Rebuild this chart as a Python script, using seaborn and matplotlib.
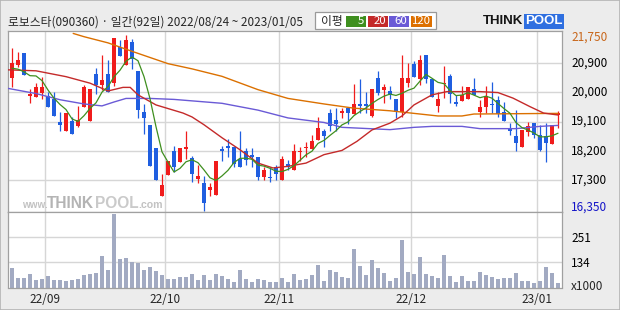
import numpy as np
import matplotlib
matplotlib.use("Agg")
import matplotlib.pyplot as plt
import seaborn as sns
from matplotlib.patches import Rectangle

# ---------------- data ----------------
title = "로보스타(090360) · 일간(92일) 2022/08/24 ~ 2023/01/05"

opens = [20430, 20840, 21200, 19900, 19840, 19990, 19870, 19790, 19090, 18820,
         19100, 18970, 19540, 19130, 20560, 20210, 20560, 20300, 21400, 20850,
         21550, 20640, 19400, 19000, 18270, 16800, 17440, 18180, 17840, 18250,
         17970, 17340, 17220, 16980, 16830, 18260, 18350, 18300, 17950, 18200,
         18060, 18020, 17380, 17400, 17710, 17300, 17800, 17620, 18170, 18270,
         18260, 18540, 18810, 19360, 19150, 19360, 19510, 19340, 19640, 19640,
         19270, 20430, 20080, 20030, 19800, 19380, 20300, 20870, 20410, 21150,
         20400, 19590, 20250, 20500, 19700, 19740, 19790, 20090, 19380, 19540,
         19640, 19770, 19390, 18860, 18660, 18330, 18790, 19050, 18690, 18660,
         18400, 19290]
highs = [21350, 21250, 21200, 20090, 20280, 20480, 20020, 20020, 19380, 19370,
         19230, 19580, 20230, 20100, 20740, 21140, 20990, 21660, 21610, 21750,
         21630, 20640, 19650, 19000, 18270, 17490, 17870, 18360, 18280, 18810,
         18030, 17770, 17410, 17210, 17890, 18350, 18570, 18300, 18810, 18280,
         18280, 18020, 17700, 17700, 17770, 18030, 17920, 18410, 18330, 18460,
         18690, 19230, 18860, 19480, 19510, 19510, 19560, 20260, 20410, 20020,
         20100, 20660, 20260, 20190, 19800, 21150, 20890, 20970, 21150, 21150,
         20400, 20000, 20810, 20560, 19920, 20190, 20150, 20430, 19760, 20190,
         20310, 19870, 19690, 19050, 19440, 18840, 19080, 19050, 19000, 19050,
         19000, 19410]
lows = [20170, 20790, 20530, 19680, 19840, 19790, 19540, 19280, 18820, 18820,
        18730, 18930, 19540, 19130, 19940, 20070, 20010, 20190, 21110, 20850,
        20710, 19220, 18720, 17720, 17290, 16800, 17440, 17540, 17840, 17940,
        17230, 17210, 16350, 16800, 16830, 17870, 18000, 17690, 17710, 17770,
        17690, 17300, 17290, 17230, 17300, 17300, 17600, 17620, 17870, 18000,
        18260, 18540, 18330, 18810, 18810, 19220, 19030, 19340, 19360, 19360,
        19230, 19920, 19680, 19790, 19220, 19230, 20170, 20480, 20230, 20300,
        19840, 19380, 19820, 19680, 19580, 19740, 19790, 19920, 19230, 19360,
        19360, 19230, 19130, 18670, 18180, 18330, 18640, 18590, 18180, 17840,
        18400, 18900]
closes = [20890, 20990, 20530, 19950, 20150, 20170, 19540, 19280, 18980, 19370,
          18730, 19150, 20160, 20100, 20230, 20380, 20010, 21660, 21110, 21610,
          21030, 19440, 19220, 17720, 17290, 17160, 17870, 17690, 18280, 18300,
          17480, 17410, 16580, 17070, 17890, 18180, 18270, 17780, 17710, 17920,
          18000, 17380, 17620, 17380, 17470, 17950, 17710, 18200, 18200, 18310,
          18510, 18910, 18660, 18970, 19030, 19410, 19360, 19640, 19590, 19590,
          20100, 19970, 20150, 19910, 19380, 20430, 20430, 20480, 20990, 20410,
          19840, 19800, 20280, 19940, 19630, 19920, 20150, 19920, 19540, 19870,
          19610, 19340, 19130, 18820, 18430, 18840, 18970, 18670, 18230, 18430,
          19000, 19360]
volumes = [108, 64, 62, 81, 55, 58, 71, 53, 53, 50,
           55, 58, 76, 81, 87, 163, 99, 355, 149, 154,
           135, 132, 99, 113, 93, 76, 58, 58, 67, 67,
           81, 53, 76, 53, 81, 71, 58, 44, 99, 58,
           44, 58, 53, 44, 44, 62, 44, 81, 55, 58,
           76, 122, 49, 99, 90, 67, 62, 195, 117, 76,
           145, 108, 85, 49, 62, 236, 90, 81, 158, 81,
           71, 62, 167, 71, 44, 71, 49, 49, 90, 76,
           67, 58, 62, 62, 85, 49, 49, 39, 49, 113,
           85, 39]

ma5 = [20740, 20710, 20630, 20510, 20502, 20358, 20068, 19818, 19624, 19468,
       19180, 19102, 19278, 19502, 19674, 20004, 20176, 20476, 20678, 20954,
       21084, 20970, 20482, 19804, 18940, 18166, 17852, 17546, 17658, 17860,
       17924, 17832, 17610, 17368, 17286, 17426, 17598, 17838, 17966, 17972,
       17936, 17758, 17726, 17660, 17570, 17560, 17626, 17742, 17906, 18074,
       18186, 18426, 18518, 18672, 18816, 18996, 19086, 19282, 19406, 19518,
       19656, 19778, 19880, 19944, 19902, 19968, 20060, 20126, 20342, 20548,
       20430, 20304, 20264, 20054, 19898, 19914, 19984, 19912, 19832, 19880,
       19818, 19656, 19498, 19354, 19066, 18912, 18838, 18746, 18628, 18628,
       18660, 18738]

ma20_day = [-0.7, 4, 9, 13, 16, 18.5, 19.7, 21, 24, 28.5, 30, 32, 35, 38, 41, 43.5,
            46, 49, 52, 55, 57.5, 60, 63, 65, 67, 70, 72.5, 78, 81, 83.5, 86.3, 88.6, 91]
ma20_val = [20690, 20660, 20480, 20280, 20040, 20150, 20150, 19920, 19610, 19360, 19240,
            19000, 18600, 18230, 17820, 17670, 17720, 17820, 18080, 18210, 18490, 18840,
            19050, 19270, 19610, 19920, 20020, 20020, 19990, 19820, 19560, 19360, 19300]

ma60_day = [-0.7, 4, 8, 12, 15, 17, 19, 23, 27, 31, 35, 41, 46, 52, 55, 63, 67, 70,
            75, 78, 84, 88, 91]
ma60_val = [20120, 19960, 19770, 19640, 19580, 19700, 19810, 19810, 19780, 19720, 19660,
            19450, 19210, 19070, 18920, 18850, 18920, 18950, 18950, 18880, 18880, 18950, 18980]

ma120_day = [10.2, 12, 16, 20, 23, 26, 30, 35, 41, 46, 52, 57, 63, 65, 71, 75, 77, 91]
ma120_val = [21810, 21710, 21520, 21260, 21070, 20880, 20720, 20490, 20080, 19810, 19640,
             19510, 19430, 19390, 19270, 19270, 19330, 19350]

month_labels = ["22/09", "22/10", "22/11", "22/12", "23/01"]
month_pos = [5.5, 25.5, 44.5, 66.5, 87.5]
price_grid = [17300, 18200, 19100, 20000, 20900]
price_labels = [(21750, "21,750"), (20900, "20,900"), (20000, "20,000"), (19100, "19,100"),
                (18200, "18,200"), (17300, "17,300"), (16350, "16,350")]
vol_grid = [134, 251]
legend_items = ["5", "20", "60", "120"]

# ---------------- style ----------------
sns.set_style("white")
plt.rcParams['font.family'] = ['Noto Sans CJK KR', 'DejaVu Sans']

W, H = 620, 310
def fx(px): return px / W
def fy(py): return 1 - py / H

UP = '#f01c1c'
DOWN = '#1f5ee0'
C5, C20, C60, C120 = '#3f8f1f', '#c42a2a', '#6a5ad6', '#db7000'
GRID = '#d6d6d6'
FRAME = '#a0a0a0'

fig = plt.figure(figsize=(6.2, 3.1), dpi=100, facecolor='#ececec')
fig.patches.append(Rectangle((0.0008, 0.0016), 0.9984, 0.9968, transform=fig.transFigure,
                             fill=False, ec='#b4b4b4', lw=1.2))

axp = fig.add_axes([fx(7.5), fy(212), (562 - 7.5) / W, (212 - 31) / H])
axv = fig.add_axes([fx(7.5), fy(287.5), (562 - 7.5) / W, (287.5 - 212) / H])

for ax in (axp, axv):
    ax.set_facecolor('white')
    for s in ax.spines.values():
        s.set_color(FRAME)
        s.set_linewidth(0.9)
    ax.set_xlim(-0.75, 91.67)
    ax.tick_params(length=0)
    ax.set_yticks([])
    for m in month_pos:
        ax.axvline(m, color=GRID, lw=1.0, zorder=0)

axp.set_ylim(16315, 21885)
axv.set_ylim(20, 364)
for g in price_grid:
    axp.axhline(g, color=GRID, lw=1.0, zorder=0)
for g in vol_grid:
    axv.axhline(g, color=GRID, lw=1.0, zorder=0)

# watermark
axp.text(fx(22), fy(208), "www.", transform=fig.transFigure, fontsize=7.2, color='#c2c2c2',
         family='Liberation Sans', weight='bold', va='baseline', ha='left', zorder=0.5)
axp.text(fx(47), fy(208), "THINK", transform=fig.transFigure, fontsize=11.2, color='#b4b4b4',
         family='Liberation Sans', weight='bold', va='baseline', ha='left', zorder=0.5)
axp.text(fx(94.6), fy(208), "POOL", transform=fig.transFigure, fontsize=11.2, color='#cacaca',
         family='Liberation Sans', weight='bold', va='baseline', ha='left', zorder=0.5)
axp.text(fx(138.5), fy(208), ".com", transform=fig.transFigure, fontsize=7.6, color='#c2c2c2',
         family='Liberation Sans', weight='bold', va='baseline', ha='left', zorder=0.5)

# candles
x = np.arange(len(closes))
o = np.array(opens, float); c = np.array(closes, float)
hi = np.array(highs, float); lo = np.array(lows, float)
colors = np.where(c >= o, UP, DOWN)
axp.vlines(x, lo, hi, colors=colors, lw=0.9, zorder=3)
diff = np.abs(c - o)
minh = 32.0
bottom = np.minimum(o, c) - np.where(diff < minh, (minh - diff) / 2, 0)
height = np.maximum(diff, minh)
axp.bar(x, height, bottom=bottom, width=0.82, color=colors, linewidth=0, zorder=4)

# moving averages
sns.lineplot(x=ma120_day, y=ma120_val, ax=axp, color=C120, lw=1.0, zorder=5, legend=False)
sns.lineplot(x=ma60_day, y=ma60_val, ax=axp, color=C60, lw=1.0, zorder=5, legend=False)
sns.lineplot(x=ma20_day, y=ma20_val, ax=axp, color=C20, lw=1.0, zorder=5, legend=False)
sns.lineplot(x=x, y=ma5, ax=axp, color=C5, lw=0.9, zorder=5, legend=False)
axp.set_xlim(-0.75, 91.67)
axp.set_ylim(16315, 21885)
axp.set_xticks([])
axp.set_xlabel(''); axp.set_ylabel('')

# volume
axv.bar(x, volumes, width=0.76, color='#a2aac2', linewidth=0, zorder=2)
axv.set_xticks(month_pos, month_labels)
axv.tick_params(axis='x', pad=4, labelsize=8.5)
axv.set_xlabel(''); axv.set_ylabel('')

# right labels
for val, lab in price_labels:
    col = 'black'
    off = 0
    if val == 21750:
        col, off = '#c8661a', -1.3
    elif val == 16350:
        col, off = '#1414c8', 3.0
    axp.annotate(lab, xy=(571 / W, val), xycoords=('figure fraction', axp.transData),
                 xytext=(0, off), textcoords='offset points', ha='left', va='center',
                 fontsize=8.5, color=col, annotation_clip=False)
for val in vol_grid:
    axv.annotate(str(val), xy=(571 / W, val), xycoords=('figure fraction', axv.transData),
                 xytext=(0, -1), textcoords='offset points', ha='left', va='center',
                 fontsize=8.5, color='black', annotation_clip=False)
fig.text(fx(571), fy(286), "x1000", ha='left', va='center', fontsize=8.5)

# title
fig.text(fx(8), fy(22.5), title, ha='left', va='center', fontsize=8.5)

# legend box
fig.patches.append(Rectangle((fx(315), fy(29.3)), (436 - 315) / W, (29.3 - 12.3) / H,
                             transform=fig.transFigure, fc='white', ec='#999999', lw=0.9))
fig.text(fx(331.5), fy(21), "이평", ha='center', va='center', fontsize=8.5)
boxes = [(345.5, 366, C5), (367.5, 387.5, C20), (389, 409, C60), (410.5, 432, '#dd7000')]
for (x0, x1, col), lab in zip(boxes, legend_items):
    fig.patches.append(Rectangle((fx(x0), fy(26.7)), (x1 - x0) / W, (26.7 - 15.7) / H,
                                 transform=fig.transFigure, fc=col, ec='none'))
    fig.text(fx(x1 - 1.5), fy(21.2), lab, ha='right', va='center', fontsize=8.2, color='white')

# logo
fig.text(fx(523), fy(21.5), "THINK", ha='right', va='center', fontsize=9.5, weight='bold',
         color='#151515', family='Liberation Sans')
fig.patches.append(Rectangle((fx(523.5), fy(28.5)), 40 / W, 14.5 / H,
                             transform=fig.transFigure, fc='#2f6fe0', ec='none'))
fig.text(fx(543.5), fy(21.5), "POOL", ha='center', va='center', fontsize=9.5, weight='bold',
         color='white', family='Liberation Sans')

fig.savefig("out.png", dpi=100, facecolor=fig.get_facecolor())
